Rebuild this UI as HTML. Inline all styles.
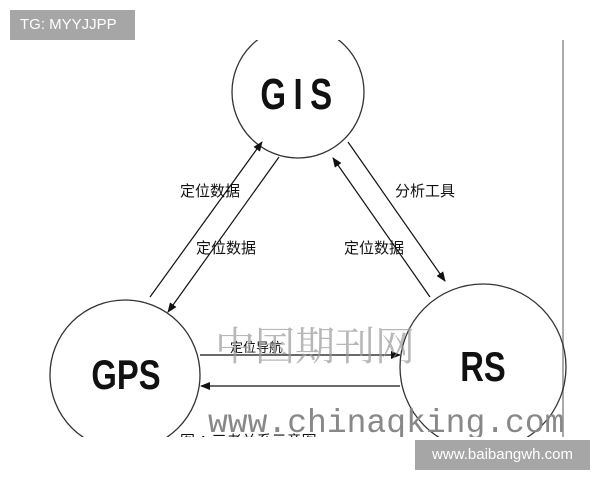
<!DOCTYPE html>
<html><head><meta charset="utf-8"><style>
body{margin:0;width:600px;height:480px;background:#fff;position:relative;overflow:hidden;font-family:"Liberation Sans","Noto Sans CJK SC",sans-serif}
.tag{position:absolute;background:#a6a6a6;color:#fff;font-size:15px;line-height:30px;padding:0 10px}
</style></head><body>
<svg width="600" height="480" style="position:absolute;left:0;top:0">
<defs>
<clipPath id="c"><rect x="0" y="40" width="570" height="397"/></clipPath>
<marker id="a" markerWidth="10" markerHeight="8" refX="9" refY="4" orient="auto" markerUnits="userSpaceOnUse"><path d="M0,0 L10,4 L0,8z" fill="#111"/></marker>
</defs>
<g clip-path="url(#c)">
<line x1="563" y1="40" x2="563" y2="437" stroke="#aaa" stroke-width="2"/>
<g fill="none" stroke="#333" stroke-width="1.3">
<circle cx="298" cy="92" r="66"/>
<circle cx="125" cy="375" r="75"/>
<circle cx="483" cy="367" r="83"/>
</g>
<g stroke="#111" stroke-width="1.2" marker-end="url(#a)">
<line x1="150" y1="297" x2="262" y2="142"/>
<line x1="279" y1="157" x2="168" y2="312"/>
<line x1="430" y1="297" x2="333" y2="158"/>
<line x1="348" y1="142" x2="445" y2="281"/>
<line x1="200" y1="355" x2="400" y2="355"/>
<line x1="400" y1="386" x2="201" y2="386"/>
</g>
<g font-family="'Liberation Sans','Noto Sans CJK SC',sans-serif" fill="#111">
<text transform="translate(300,109) scale(0.75,1)" font-size="44" text-anchor="middle" letter-spacing="10" font-weight="bold">GIS</text>
<text transform="translate(126,389) scale(0.78,1)" font-size="42" text-anchor="middle" font-weight="bold">GPS</text>
<text transform="translate(483,381) scale(0.78,1)" font-size="42" text-anchor="middle" font-weight="bold">RS</text>
<text x="180" y="196" font-size="15">定位数据</text>
<text x="196" y="253" font-size="15">定位数据</text>
<text x="395" y="196" font-size="15">分析工具</text>
<text x="344" y="253" font-size="15">定位数据</text>
<text x="230" y="352" font-size="13">定位导航</text>
<text x="215" y="360" font-size="40" fill="#999" fill-opacity="0.7" font-family="'Noto Serif CJK SC',serif">中国期刊网</text>
<text x="208" y="432" font-size="33" fill="#888" font-family="'Liberation Mono',monospace">www.chinaqking.com</text>
<text x="180" y="446" font-size="15">图 1 三者关系示意图</text>
</g>
</g>
</svg>
<div class="tag" style="left:10px;top:10px;width:105px">TG: MYYJJPP</div>
<div class="tag" style="left:415px;top:440px;width:155px;text-align:center">www.baibangwh.com</div>
</body></html>
